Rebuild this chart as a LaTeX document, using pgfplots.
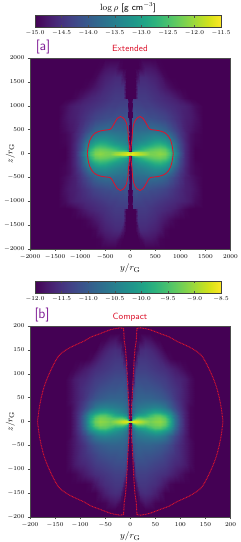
\documentclass[border=0pt]{standalone}
\usepackage{pgfplots}
\usepackage{pgfplotstable}
\pgfplotsset{compat=1.18}
\definecolor{contourred}{RGB}{220,20,45}
\definecolor{labelpurple}{RGB}{128,30,150}
\newcommand{\ticksize}{\fontsize{6}{7}\selectfont}
\newcommand{\labsize}{\fontsize{9.5}{11}\selectfont}

% Panel a: quarter of the map, columns Y Z V
\pgfplotstableread[row sep=\\]{
Y Z V\\
0 0 -11.6\\ 25 0 -11.6\\ 40 0 -11.6\\ 60 0 -11.65\\ 90 0 -11.7\\ 150 0 -11.8\\ 200 0 -11.85\\ 300 0 -12.0\\ 400 0 -12.2\\ 500 0 -12.2\\ 600 0 -12.1\\ 700 0 -12.2\\ 800 0 -12.6\\ 900 0 -13.4\\ 1000 0 -14.1\\ 1100 0 -14.6\\ 1200 0 -14.85\\ 1300 0 -15\\ 1450 0 -15\\ 2000 0 -15\\
0 30 -12.0\\ 25 30 -11.8\\ 40 30 -11.7\\ 60 30 -11.7\\ 90 30 -11.8\\ 150 30 -11.9\\ 200 30 -12.0\\ 300 30 -12.1\\ 400 30 -12.25\\ 500 30 -12.2\\ 600 30 -12.15\\ 700 30 -12.25\\ 800 30 -12.6\\ 900 30 -13.4\\ 1000 30 -14.1\\ 1100 30 -14.6\\ 1200 30 -14.85\\ 1300 30 -15\\ 1450 30 -15\\ 2000 30 -15\\
0 60 -15\\ 25 60 -15\\ 40 60 -13.0\\ 60 60 -12.7\\ 90 60 -12.5\\ 150 60 -12.4\\ 200 60 -12.4\\ 300 60 -12.35\\ 400 60 -12.3\\ 500 60 -12.25\\ 600 60 -12.2\\ 700 60 -12.3\\ 800 60 -12.7\\ 900 60 -13.5\\ 1000 60 -14.15\\ 1100 60 -14.6\\ 1200 60 -14.85\\ 1300 60 -15\\ 1450 60 -15\\ 2000 60 -15\\
0 100 -15\\ 25 100 -15\\ 40 100 -13.4\\ 60 100 -13.2\\ 90 100 -13.0\\ 150 100 -12.9\\ 200 100 -12.8\\ 300 100 -12.6\\ 400 100 -12.45\\ 500 100 -12.35\\ 600 100 -12.3\\ 700 100 -12.4\\ 800 100 -12.8\\ 900 100 -13.55\\ 1000 100 -14.2\\ 1100 100 -14.6\\ 1200 100 -14.85\\ 1300 100 -15\\ 1450 100 -15\\ 2000 100 -15\\
0 200 -15\\ 25 200 -15\\ 40 200 -13.6\\ 60 200 -13.5\\ 90 200 -13.4\\ 150 200 -13.3\\ 200 200 -13.2\\ 300 200 -13.1\\ 400 200 -12.95\\ 500 200 -12.8\\ 600 200 -12.75\\ 700 200 -12.9\\ 800 200 -13.2\\ 900 200 -13.7\\ 1000 200 -14.25\\ 1100 200 -14.6\\ 1200 200 -14.85\\ 1300 200 -14.97\\ 1450 200 -15\\ 2000 200 -15\\
0 300 -15\\ 25 300 -15\\ 40 300 -13.7\\ 60 300 -13.65\\ 90 300 -13.6\\ 150 300 -13.5\\ 200 300 -13.5\\ 300 300 -13.4\\ 400 300 -13.3\\ 500 300 -13.2\\ 600 300 -13.2\\ 700 300 -13.3\\ 800 300 -13.55\\ 900 300 -13.95\\ 1000 300 -14.35\\ 1100 300 -14.65\\ 1200 300 -14.85\\ 1300 300 -14.95\\ 1450 300 -15\\ 2000 300 -15\\
0 400 -15\\ 25 400 -15\\ 40 400 -13.8\\ 60 400 -13.75\\ 90 400 -13.7\\ 150 400 -13.7\\ 200 400 -13.65\\ 300 400 -13.6\\ 400 400 -13.55\\ 500 400 -13.5\\ 600 400 -13.55\\ 700 400 -13.65\\ 800 400 -13.85\\ 900 400 -14.15\\ 1000 400 -14.45\\ 1100 400 -14.65\\ 1200 400 -14.85\\ 1300 400 -14.95\\ 1450 400 -15\\ 2000 400 -15\\
0 500 -15\\ 25 500 -15\\ 40 500 -13.9\\ 60 500 -13.85\\ 90 500 -13.85\\ 150 500 -13.85\\ 200 500 -13.8\\ 300 500 -13.8\\ 400 500 -13.75\\ 500 500 -13.75\\ 600 500 -13.8\\ 700 500 -13.9\\ 800 500 -14.1\\ 900 500 -14.3\\ 1000 500 -14.5\\ 1100 500 -14.7\\ 1200 500 -14.8\\ 1300 500 -14.9\\ 1450 500 -15\\ 2000 500 -15\\
0 740 -15\\ 25 740 -15\\ 40 740 -14.1\\ 60 740 -14.1\\ 90 740 -14.1\\ 150 740 -14.1\\ 200 740 -14.1\\ 300 740 -14.15\\ 400 740 -14.15\\ 500 740 -14.2\\ 600 740 -14.25\\ 700 740 -14.3\\ 800 740 -14.4\\ 900 740 -14.5\\ 1000 740 -14.6\\ 1100 740 -14.7\\ 1200 740 -14.75\\ 1300 740 -14.85\\ 1450 740 -15\\ 2000 740 -15\\
0 760 -15\\ 25 760 -15\\ 40 760 -15\\ 60 760 -14.15\\ 90 760 -14.1\\ 150 760 -14.15\\ 200 760 -14.15\\ 300 760 -14.15\\ 400 760 -14.2\\ 500 760 -14.2\\ 600 760 -14.25\\ 700 760 -14.3\\ 800 760 -14.4\\ 900 760 -14.5\\ 1000 760 -14.6\\ 1100 760 -14.7\\ 1200 760 -14.75\\ 1300 760 -14.85\\ 1450 760 -15\\ 2000 760 -15\\
0 1000 -15\\ 25 1000 -15\\ 40 1000 -15\\ 60 1000 -14.3\\ 90 1000 -14.3\\ 150 1000 -14.3\\ 200 1000 -14.3\\ 300 1000 -14.35\\ 400 1000 -14.35\\ 500 1000 -14.4\\ 600 1000 -14.45\\ 700 1000 -14.5\\ 800 1000 -14.55\\ 900 1000 -14.6\\ 1000 1000 -14.65\\ 1100 1000 -14.7\\ 1200 1000 -14.78\\ 1300 1000 -14.9\\ 1450 1000 -15\\ 2000 1000 -15\\
0 1140 -15\\ 25 1140 -15\\ 40 1140 -15\\ 60 1140 -14.4\\ 90 1140 -14.4\\ 150 1140 -14.4\\ 200 1140 -14.4\\ 300 1140 -14.4\\ 400 1140 -14.45\\ 500 1140 -14.5\\ 600 1140 -14.55\\ 700 1140 -14.6\\ 800 1140 -14.65\\ 900 1140 -14.7\\ 1000 1140 -14.8\\ 1100 1140 -14.9\\ 1200 1140 -14.97\\ 1300 1140 -15\\ 1450 1140 -15\\ 2000 1140 -15\\
0 1160 -15\\ 25 1160 -15\\ 40 1160 -15\\ 60 1160 -15\\ 90 1160 -15\\ 150 1160 -14.4\\ 200 1160 -14.4\\ 300 1160 -14.4\\ 400 1160 -14.45\\ 500 1160 -14.5\\ 600 1160 -14.55\\ 700 1160 -14.6\\ 800 1160 -14.65\\ 900 1160 -14.75\\ 1000 1160 -14.85\\ 1100 1160 -14.95\\ 1200 1160 -15\\ 1300 1160 -15\\ 1450 1160 -15\\ 2000 1160 -15\\
0 1400 -15\\ 25 1400 -15\\ 40 1400 -15\\ 60 1400 -15\\ 90 1400 -15\\ 150 1400 -14.5\\ 200 1400 -14.5\\ 300 1400 -14.5\\ 400 1400 -14.55\\ 500 1400 -14.6\\ 600 1400 -14.7\\ 700 1400 -14.8\\ 800 1400 -14.9\\ 900 1400 -14.97\\ 1000 1400 -15\\ 1100 1400 -15\\ 1200 1400 -15\\ 1300 1400 -15\\ 1450 1400 -15\\ 2000 1400 -15\\
0 1600 -15\\ 25 1600 -15\\ 40 1600 -15\\ 60 1600 -15\\ 90 1600 -15\\ 150 1600 -14.8\\ 200 1600 -14.6\\ 300 1600 -14.6\\ 400 1600 -14.65\\ 500 1600 -14.7\\ 600 1600 -14.8\\ 700 1600 -14.95\\ 800 1600 -15\\ 900 1600 -15\\ 1000 1600 -15\\ 1100 1600 -15\\ 1200 1600 -15\\ 1300 1600 -15\\ 1450 1600 -15\\ 2000 1600 -15\\
0 1800 -15\\ 25 1800 -15\\ 40 1800 -15\\ 60 1800 -15\\ 90 1800 -15\\ 150 1800 -15\\ 200 1800 -14.95\\ 300 1800 -14.8\\ 400 1800 -14.8\\ 500 1800 -14.85\\ 600 1800 -14.97\\ 700 1800 -15\\ 800 1800 -15\\ 900 1800 -15\\ 1000 1800 -15\\ 1100 1800 -15\\ 1200 1800 -15\\ 1300 1800 -15\\ 1450 1800 -15\\ 2000 1800 -15\\
0 2000 -15\\ 25 2000 -15\\ 40 2000 -15\\ 60 2000 -15\\ 90 2000 -15\\ 150 2000 -15\\ 200 2000 -15\\ 300 2000 -15\\ 400 2000 -15\\ 500 2000 -15\\ 600 2000 -15\\ 700 2000 -15\\ 800 2000 -15\\ 900 2000 -15\\ 1000 2000 -15\\ 1100 2000 -15\\ 1200 2000 -15\\ 1300 2000 -15\\ 1450 2000 -15\\ 2000 2000 -15\\
}\mapA

% Panel b
\pgfplotstableread[row sep=\\]{
Y Z V\\
0 0 -8.6\\ 2 0 -8.55\\ 4 0 -8.55\\ 6 0 -8.55\\ 9 0 -8.6\\ 12 0 -8.6\\ 16 0 -8.65\\ 20 0 -8.75\\ 30 0 -9.0\\ 40 0 -9.2\\ 50 0 -9.15\\ 60 0 -9.1\\ 70 0 -9.25\\ 80 0 -9.8\\ 90 0 -10.7\\ 100 0 -11.3\\ 110 0 -11.7\\ 120 0 -11.95\\ 130 0 -12\\ 200 0 -12\\
0 2 -9.0\\ 2 2 -8.8\\ 4 2 -8.7\\ 6 2 -8.65\\ 9 2 -8.7\\ 12 2 -8.75\\ 16 2 -8.8\\ 20 2 -8.9\\ 30 2 -9.1\\ 40 2 -9.25\\ 50 2 -9.15\\ 60 2 -9.1\\ 70 2 -9.3\\ 80 2 -9.85\\ 90 2 -10.7\\ 100 2 -11.3\\ 110 2 -11.7\\ 120 2 -11.95\\ 130 2 -12\\ 200 2 -12\\
0 4 -12\\ 2 4 -12\\ 4 4 -9.8\\ 6 4 -9.2\\ 9 4 -9.0\\ 12 4 -8.95\\ 16 4 -9.0\\ 20 4 -9.05\\ 30 4 -9.2\\ 40 4 -9.3\\ 50 4 -9.2\\ 60 4 -9.15\\ 70 4 -9.35\\ 80 4 -9.9\\ 90 4 -10.7\\ 100 4 -11.3\\ 110 4 -11.7\\ 120 4 -11.95\\ 130 4 -12\\ 200 4 -12\\
0 8 -12\\ 2 8 -12\\ 4 8 -10.6\\ 6 8 -10.0\\ 9 8 -9.7\\ 12 8 -9.5\\ 16 8 -9.4\\ 20 8 -9.4\\ 30 8 -9.45\\ 40 8 -9.35\\ 50 8 -9.25\\ 60 8 -9.2\\ 70 8 -9.4\\ 80 8 -9.95\\ 90 8 -10.75\\ 100 8 -11.3\\ 110 8 -11.7\\ 120 8 -11.95\\ 130 8 -12\\ 200 8 -12\\
0 14 -12\\ 2 14 -12\\ 4 14 -10.9\\ 6 14 -10.6\\ 9 14 -10.3\\ 12 14 -10.2\\ 16 14 -10.05\\ 20 14 -10.0\\ 30 14 -9.9\\ 40 14 -9.65\\ 50 14 -9.45\\ 60 14 -9.45\\ 70 14 -9.7\\ 80 14 -10.15\\ 90 14 -10.8\\ 100 14 -11.35\\ 110 14 -11.7\\ 120 14 -11.95\\ 130 14 -12\\ 200 14 -12\\
0 20 -12\\ 2 20 -12\\ 4 20 -11.0\\ 6 20 -10.8\\ 9 20 -10.6\\ 12 20 -10.5\\ 16 20 -10.4\\ 20 20 -10.35\\ 30 20 -10.2\\ 40 20 -10.05\\ 50 20 -9.9\\ 60 20 -9.95\\ 70 20 -10.15\\ 80 20 -10.45\\ 90 20 -11.0\\ 100 20 -11.4\\ 110 20 -11.7\\ 120 20 -11.95\\ 130 20 -12\\ 200 20 -12\\
0 30 -12\\ 2 30 -12\\ 4 30 -11.1\\ 6 30 -10.9\\ 9 30 -10.8\\ 12 30 -10.7\\ 16 30 -10.65\\ 20 30 -10.6\\ 30 30 -10.55\\ 40 30 -10.5\\ 50 30 -10.45\\ 60 30 -10.5\\ 70 30 -10.65\\ 80 30 -10.95\\ 90 30 -11.25\\ 100 30 -11.5\\ 110 30 -11.75\\ 120 30 -11.95\\ 130 30 -12\\ 200 30 -12\\
0 40 -12\\ 2 40 -12\\ 4 40 -11.15\\ 6 40 -11.0\\ 9 40 -10.9\\ 12 40 -10.85\\ 16 40 -10.8\\ 20 40 -10.8\\ 30 40 -10.75\\ 40 40 -10.75\\ 50 40 -10.75\\ 60 40 -10.8\\ 70 40 -10.9\\ 80 40 -11.1\\ 90 40 -11.35\\ 100 40 -11.55\\ 110 40 -11.75\\ 120 40 -11.9\\ 130 40 -12\\ 200 40 -12\\
0 50 -12\\ 2 50 -12\\ 4 50 -12\\ 6 50 -11.1\\ 9 50 -11.0\\ 12 50 -10.95\\ 16 50 -10.9\\ 20 50 -10.9\\ 30 50 -10.9\\ 40 50 -10.9\\ 50 50 -10.95\\ 60 50 -11.0\\ 70 50 -11.1\\ 80 50 -11.25\\ 90 50 -11.45\\ 100 50 -11.6\\ 110 50 -11.75\\ 120 50 -11.9\\ 130 50 -12\\ 200 50 -12\\
0 70 -12\\ 2 70 -12\\ 4 70 -12\\ 6 70 -11.4\\ 9 70 -11.15\\ 12 70 -11.1\\ 16 70 -11.05\\ 20 70 -11.05\\ 30 70 -11.1\\ 40 70 -11.1\\ 50 70 -11.15\\ 60 70 -11.2\\ 70 70 -11.3\\ 80 70 -11.4\\ 90 70 -11.5\\ 100 70 -11.6\\ 110 70 -11.75\\ 120 70 -11.9\\ 130 70 -12\\ 200 70 -12\\
0 90 -12\\ 2 90 -12\\ 4 90 -12\\ 6 90 -12\\ 9 90 -11.3\\ 12 90 -11.2\\ 16 90 -11.2\\ 20 90 -11.2\\ 30 90 -11.2\\ 40 90 -11.25\\ 50 90 -11.3\\ 60 90 -11.35\\ 70 90 -11.4\\ 80 90 -11.5\\ 90 90 -11.6\\ 100 90 -11.65\\ 110 90 -11.75\\ 120 90 -11.9\\ 130 90 -12\\ 200 90 -12\\
0 110 -12\\ 2 110 -12\\ 4 110 -12\\ 6 110 -12\\ 9 110 -11.6\\ 12 110 -11.4\\ 16 110 -11.35\\ 20 110 -11.35\\ 30 110 -11.35\\ 40 110 -11.4\\ 50 110 -11.45\\ 60 110 -11.5\\ 70 110 -11.55\\ 80 110 -11.65\\ 90 110 -11.75\\ 100 110 -11.85\\ 110 110 -11.95\\ 120 110 -12\\ 130 110 -12\\ 200 110 -12\\
0 130 -12\\ 2 130 -12\\ 4 130 -12\\ 6 130 -12\\ 9 130 -12\\ 12 130 -11.8\\ 16 130 -11.5\\ 20 130 -11.45\\ 30 130 -11.45\\ 40 130 -11.5\\ 50 130 -11.55\\ 60 130 -11.65\\ 70 130 -11.8\\ 80 130 -11.95\\ 90 130 -12\\ 100 130 -12\\ 110 130 -12\\ 120 130 -12\\ 130 130 -12\\ 200 130 -12\\
0 150 -12\\ 2 150 -12\\ 4 150 -12\\ 6 150 -12\\ 9 150 -12\\ 12 150 -12\\ 16 150 -11.85\\ 20 150 -11.6\\ 30 150 -11.55\\ 40 150 -11.6\\ 50 150 -11.7\\ 60 150 -11.85\\ 70 150 -12\\ 80 150 -12\\ 90 150 -12\\ 100 150 -12\\ 110 150 -12\\ 120 150 -12\\ 130 150 -12\\ 200 150 -12\\
0 170 -12\\ 2 170 -12\\ 4 170 -12\\ 6 170 -12\\ 9 170 -12\\ 12 170 -12\\ 16 170 -12\\ 20 170 -11.95\\ 30 170 -11.8\\ 40 170 -11.85\\ 50 170 -11.97\\ 60 170 -12\\ 70 170 -12\\ 80 170 -12\\ 90 170 -12\\ 100 170 -12\\ 110 170 -12\\ 120 170 -12\\ 130 170 -12\\ 200 170 -12\\
0 185 -12\\ 2 185 -12\\ 4 185 -12\\ 6 185 -12\\ 9 185 -12\\ 12 185 -12\\ 16 185 -12\\ 20 185 -12\\ 30 185 -12\\ 40 185 -12\\ 50 185 -12\\ 60 185 -12\\ 70 185 -12\\ 80 185 -12\\ 90 185 -12\\ 100 185 -12\\ 110 185 -12\\ 120 185 -12\\ 130 185 -12\\ 200 185 -12\\
0 200 -12\\ 2 200 -12\\ 4 200 -12\\ 6 200 -12\\ 9 200 -12\\ 12 200 -12\\ 16 200 -12\\ 20 200 -12\\ 30 200 -12\\ 40 200 -12\\ 50 200 -12\\ 60 200 -12\\ 70 200 -12\\ 80 200 -12\\ 90 200 -12\\ 100 200 -12\\ 110 200 -12\\ 120 200 -12\\ 130 200 -12\\ 200 200 -12\\
}\mapB

\pgfplotstableread[row sep=\\]{
Y Z W\\
10 50 0\\ 13 139 0\\ 33 279 0\\ 47 488 0\\ 73 627 0\\ 105 700 0\\ 140 746 0\\ 193 774 0\\ 230 755 0\\ 260 732 0\\ 300 665 0\\ 339 592 0\\ 370 535 0\\ 406 502 0\\ 500 490 0\\ 592 474 0\\ 660 450 0\\ 712 418 0\\ 770 350 0\\ 805 279 0\\ 830 190 0\\ 845 105 0\\ 858 0 0\\
}\contA

% Contour b: funnel wall, then outer edge
\pgfplotstableread[row sep=\\]{
Y Z W\\
1.5 6 0\\ 2 17 0\\ 5.3 80 0\\ 7.5 125 0\\ 9.3 150 0\\ 12 170 0\\ 13.3 195 0\\
}\contBf
\pgfplotstableread[row sep=\\]{
Y Z W\\
13.3 195 0\\ 20 196 0\\ 27 195 0\\ 40 192 0\\ 60 184 0\\ 78 177 0\\ 93 168 0\\ 110 160 0\\ 128 150 0\\ 143 137 0\\ 155 115 0\\ 165 92 0\\ 172 72 0\\ 178 48 0\\ 182 25 0\\ 185 0 0\\
}\contBo

\pgfplotsset{
  colormap/viridis,
  panel/.style={
    scale only axis,
    width=200.5pt,
    height=191pt,
    anchor=south west,
    view={0}{90},
    axis on top,
    axis line style={line width=0.3pt,black!70},
    tick style={line width=0.3pt,black!70},
    major tick length=2pt,
    tick align=outside,
    xtick pos=bottom,
    ytick pos=left,
    ticklabel style={font=\ticksize},
    /pgf/number format/1000 sep={},
    xlabel style={font=\labsize,at={(axis description cs:0.5,0)},yshift=-14.5pt,anchor=north,inner sep=0pt},
    ylabel style={font=\labsize,at={(axis description cs:0,0.5)},yshift=15pt,anchor=south,inner sep=0pt},
    xlabel={$y/r_{\rm G}$},
    ylabel={$z/r_{\rm G}$},
    colorbar horizontal,
  },
  cbar/.style={
    width=186pt,
    height=11.5pt,
    anchor=south,
    axis line style={line width=0.4pt,black!75},
    tick style={line width=0.3pt,black!70},
    major tick length=2pt,
    ticklabel style={font=\ticksize},
    /pgf/number format/fixed,
    /pgf/number format/fixed zerofill,
    /pgf/number format/precision=1,
    xticklabel pos=lower,
  },
  heat/.style={surf,shader=interp,mesh/rows=17,mesh/cols=20},
  conA/.style={contourred,line width=0.85pt,no markers,smooth},
  conB/.style={contourred,line width=0.95pt,dash pattern=on 0.9pt off 0.7pt,no markers},
  conBs/.style={conB,smooth},
}

\begin{document}
\begin{tikzpicture}[x=1pt,y=1pt]
\path[use as bounding box] (0,0) rectangle (241,542);

\begin{axis}[panel,at={(30pt,293pt)},
  xmin=-2000,xmax=2000,ymin=-2000,ymax=2000,
  xtick={-2000,-1500,...,2000},ytick={-2000,-1500,...,2000},
  point meta min=-15,point meta max=-11.5,
  colorbar style={cbar,at={(0.489,1.162)},xtick={-15,-14.5,...,-11.5}},
]
\addplot3[heat] table[x=Y,y=Z,z=V] {\mapA};
\addplot3[heat] table[x expr=-\thisrow{Y},y=Z,z=V] {\mapA};
\addplot3[heat] table[x=Y,y expr=-\thisrow{Z},z=V] {\mapA};
\addplot3[heat] table[x expr=-\thisrow{Y},y expr=-\thisrow{Z},z=V] {\mapA};
\addplot3[conA] table[x=Y,y=Z,z=W] {\contA};
\addplot3[conA] table[x expr=-\thisrow{Y},y=Z,z=W] {\contA};
\addplot3[conA] table[x=Y,y expr=-\thisrow{Z},z=W] {\contA};
\addplot3[conA] table[x expr=-\thisrow{Y},y expr=-\thisrow{Z},z=W] {\contA};
\end{axis}

\begin{axis}[panel,at={(30pt,25pt)},
  xmin=-200,xmax=200,ymin=-200,ymax=200,
  xtick={-200,-150,...,200},ytick={-200,-150,...,200},
  point meta min=-12,point meta max=-8.5,
  colorbar style={cbar,at={(0.489,1.173)},xtick={-12,-11.5,...,-8.5}},
]
\addplot3[heat] table[x=Y,y=Z,z=V] {\mapB};
\addplot3[heat] table[x expr=-\thisrow{Y},y=Z,z=V] {\mapB};
\addplot3[heat] table[x=Y,y expr=-\thisrow{Z},z=V] {\mapB};
\addplot3[heat] table[x expr=-\thisrow{Y},y expr=-\thisrow{Z},z=V] {\mapB};
\addplot3[conB] table[x=Y,y=Z,z=W] {\contBf};
\addplot3[conB] table[x expr=-\thisrow{Y},y=Z,z=W] {\contBf};
\addplot3[conB] table[x=Y,y expr=-\thisrow{Z},z=W] {\contBf};
\addplot3[conB] table[x expr=-\thisrow{Y},y expr=-\thisrow{Z},z=W] {\contBf};
\addplot3[conBs] table[x=Y,y=Z,z=W] {\contBo};
\addplot3[conBs] table[x expr=-\thisrow{Y},y=Z,z=W] {\contBo};
\addplot3[conBs] table[x=Y,y expr=-\thisrow{Z},z=W] {\contBo};
\addplot3[conBs] table[x expr=-\thisrow{Y},y expr=-\thisrow{Z},z=W] {\contBo};
\end{axis}

\node[font=\fontsize{9}{10}\selectfont,inner sep=0pt] at (128,534) {\sffamily $\log\rho$ [g cm$^{-3}$]};
\node[font=\fontsize{9}{10}\selectfont,text=contourred,inner sep=0pt] at (130,494) {\sffamily Extended};
\node[font=\fontsize{9}{10}\selectfont,text=contourred,inner sep=0pt] at (130,225) {\sffamily Compact};
\node[font=\fontsize{14}{16}\selectfont,text=labelpurple,inner sep=0pt] at (43,495) {\sffamily [a]};
\node[font=\fontsize{14}{16}\selectfont,text=labelpurple,inner sep=0pt] at (42,227) {\sffamily [b]};
\end{tikzpicture}
\end{document}
